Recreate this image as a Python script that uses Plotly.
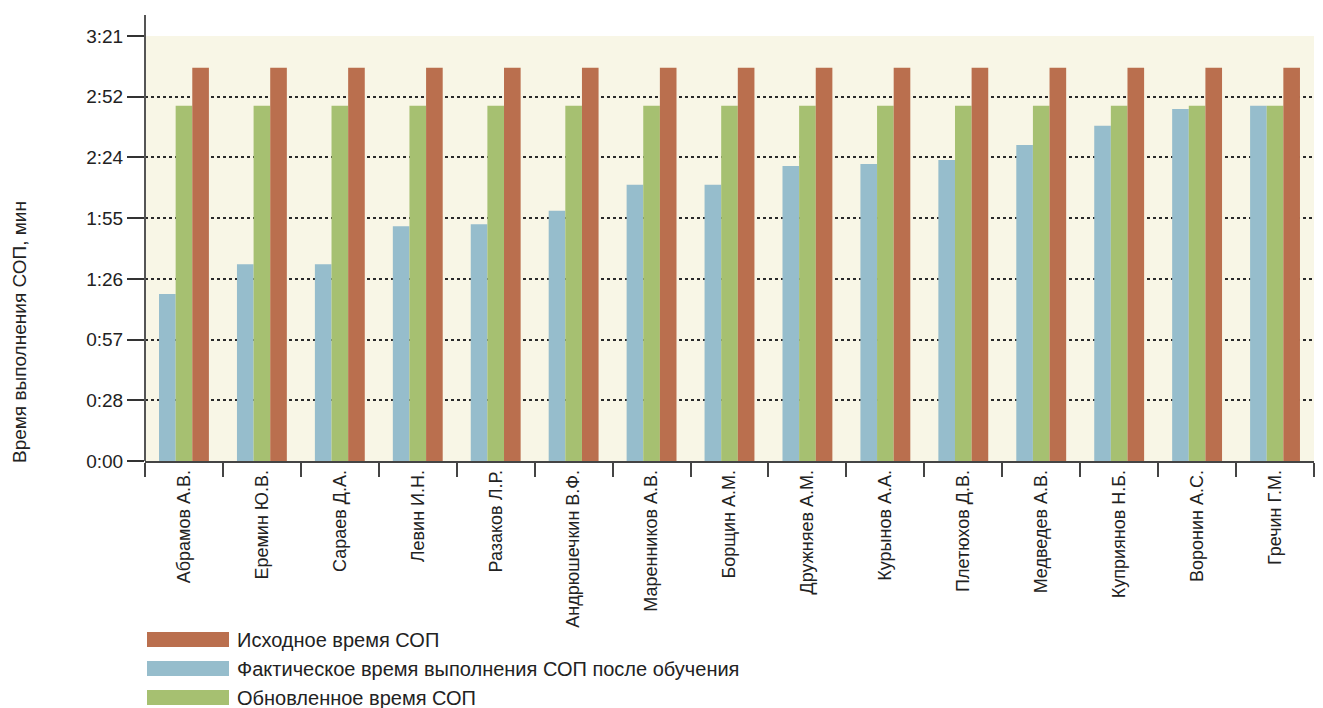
import plotly.graph_objects as go

names = ["Абрамов А.В.", "Еремин Ю.В.", "Сараев Д.А.", "Левин И.Н.", "Разаков Л.Р.",
         "Андрюшечкин В.Ф.", "Маренников А.В.", "Борщин А.М.", "Дружняев А.М.", "Курынов А.А.",
         "Плетюхов Д.В.", "Медведев А.В.", "Куприянов Н.Б.", "Воронин А.С.", "Гречин Г.М."]

# seconds
actual = [79, 93, 93, 111, 112, 118.3, 130.6, 130.6, 139.5, 140.5, 142.4, 149.5, 158.5, 166.5, 168]
updated = [168] * 15
original = [186] * 15

tick_vals = [0, 28.71, 57.43, 86.14, 114.86, 143.57, 172.29, 201]
tick_text = ["0:00", "0:28", "0:57", "1:26", "1:55", "2:24", "2:52", "3:21"]

legend_labels = ["Исходное время СОП",
                 "Фактическое время выполнения СОП после обучения",
                 "Обновленное время СОП"]

C_RED = "#ba6f4e"
C_BLUE = "#96bdcc"
C_GREEN = "#a6c071"

W, H = 1323, 708
L, R, T, B = 145, 9, 36, 247
PW, PH = W - L - R, H - T - B


def px(x):
    return (x - L) / PW


def py(y):
    return (H - B - y) / PH


fig = go.Figure()
fig.add_bar(x=names, y=actual, marker_color=C_BLUE, marker_line_width=0, name=legend_labels[1])
fig.add_bar(x=names, y=updated, marker_color=C_GREEN, marker_line_width=0, name=legend_labels[2])
fig.add_bar(x=names, y=original, marker_color=C_RED, marker_line_width=0, name=legend_labels[0])

font = "Liberation Sans, Arial, sans-serif"

fig.update_layout(
    width=W, height=H,
    margin=dict(l=L, r=R, t=T, b=B, pad=0),
    paper_bgcolor="white",
    plot_bgcolor="#f8f6e6",
    barmode="group",
    bargap=0.36,
    bargroupgap=0,
    showlegend=False,
    font=dict(family=font, color="#222"),
)

fig.update_xaxes(
    tickson="boundaries",
    ticks="outside", ticklen=14, tickwidth=1.5, tickcolor="#444",
    tickangle=-90,
    tickfont=dict(size=18, family=font, color="#222"),
    showline=True, linecolor="#444", linewidth=1.5,
    showgrid=False,
)

fig.update_yaxes(
    range=[0, 201],
    tickvals=tick_vals, ticktext=tick_text,
    ticks="outside", ticklen=17, tickwidth=1.5, tickcolor="#333",
    tickfont=dict(size=19, family=font, color="#222"),
    showline=False,
    showgrid=True, gridcolor="#2a2a2a", gridwidth=1.5, griddash="dot",
    zeroline=False,
)

# left axis line extending above plot
fig.add_shape(type="line", xref="paper", yref="paper",
              x0=0, x1=0, y0=0, y1=py(15), line=dict(color="#555", width=2), layer="above")

# y-axis title
fig.add_annotation(xref="paper", yref="paper", x=px(19), y=py(332),
                   text="Время выполнения СОП, мин", textangle=-90, showarrow=False,
                   font=dict(size=19, family=font, color="#222"), xanchor="center", yanchor="middle")

# custom legend
legend_rows = [(632, 647, C_RED), (661, 676, C_BLUE), (690, 705, C_GREEN)]
for (y0, y1, c), label in zip(legend_rows, legend_labels):
    fig.add_shape(type="rect", xref="paper", yref="paper",
                  x0=px(147), x1=px(229), y0=py(y1), y1=py(y0),
                  fillcolor=c, line_width=0)
    fig.add_annotation(xref="paper", yref="paper", x=px(235), y=py((y0 + y1) / 2),
                       text=label, showarrow=False, xanchor="left", yanchor="middle",
                       font=dict(size=20, family=font, color="#222"))

fig.write_html("out.html")
